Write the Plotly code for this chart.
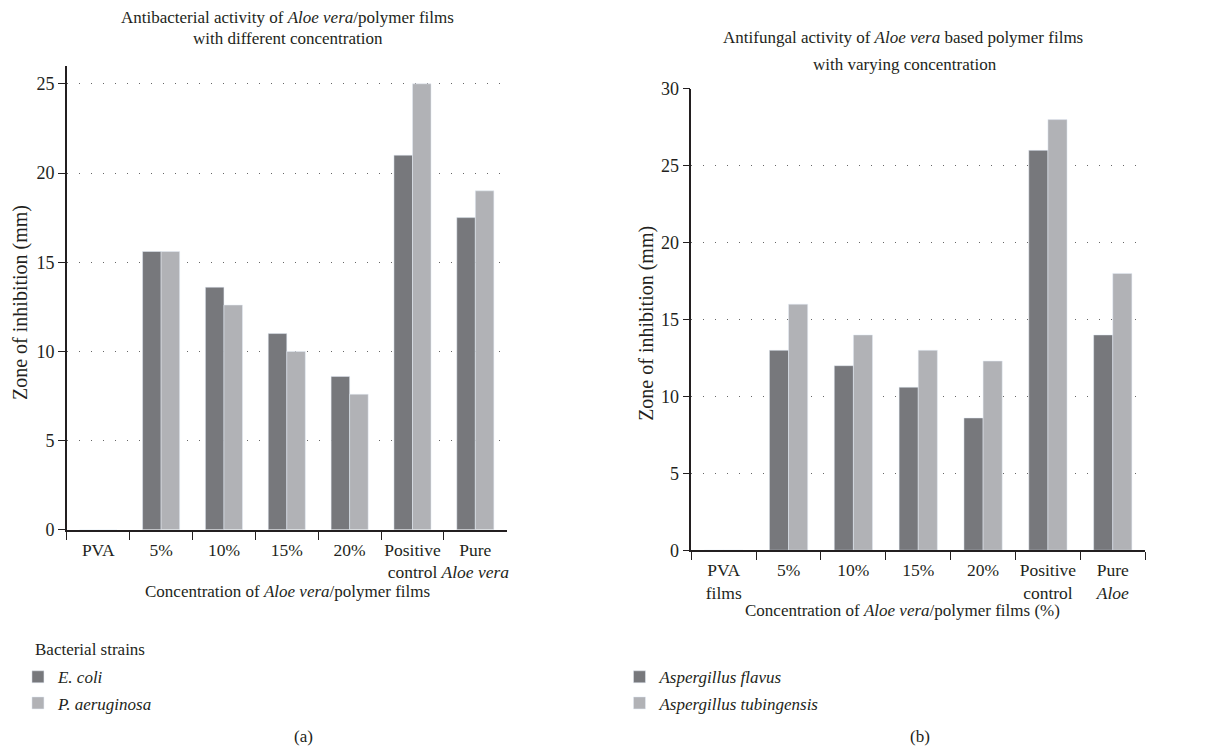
import plotly.graph_objects as go

W, H = 1223, 752

# ---- data ----
cats_a = ["PVA", "5%", "10%", "15%", "20%", "Positive<br>control", "Pure<br><i>Aloe vera</i>"]
ecoli = [0, 15.6, 13.6, 11.0, 8.6, 21.0, 17.5]
paer = [0, 15.6, 12.6, 10.0, 7.6, 25.0, 19.0]

cats_b = ["PVA<br>films", "5%", "10%", "15%", "20%", "Positive<br>control", "Pure<br><i>Aloe</i>"]
aflavus = [0, 13.0, 12.0, 10.6, 8.6, 26.0, 14.0]
atubing = [0, 16.0, 14.0, 13.0, 12.3, 28.0, 18.0]

DARK = "#77787c"
LIGHT = "#b1b2b6"
TXT = "#231f20"
FONT = "Liberation Serif"
FS = 17.5

def px_x(p):
    return p / W

def px_y(p):
    return 1 - p / H

fig = go.Figure()

fig.add_trace(go.Bar(x=cats_a, y=ecoli, name="<i>E. coli</i>", marker_color=DARK,
                     xaxis="x", yaxis="y", legend="legend", legendgroup="a1"))
fig.add_trace(go.Bar(x=cats_a, y=paer, name="<i>P. aeruginosa</i>", marker_color=LIGHT,
                     xaxis="x", yaxis="y", legend="legend", legendgroup="a2"))
fig.add_trace(go.Bar(x=cats_b, y=aflavus, name="<i>Aspergillus flavus</i>", marker_color=DARK,
                     xaxis="x2", yaxis="y2", legend="legend2", legendgroup="b1"))
fig.add_trace(go.Bar(x=cats_b, y=atubing, name="<i>Aspergillus tubingensis</i>", marker_color=LIGHT,
                     xaxis="x2", yaxis="y2", legend="legend2", legendgroup="b2"))

xcommon = dict(type="category", showline=True, linecolor=TXT, linewidth=1.5,
               ticks="outside", tickson="boundaries", ticklen=8, tickwidth=1.2, tickcolor=TXT,
               tickangle=0, ticklabelstandoff=3, showgrid=False,
               tickfont=dict(family=FONT, size=FS, color=TXT), fixedrange=True)
ycommon = dict(showline=True, linecolor=TXT, linewidth=1.5, ticks="outside", ticklen=7,
               tickwidth=1.2, tickcolor=TXT, dtick=5, showgrid=True, gridcolor="#666666",
               griddash="1px,11px", gridwidth=1.3, zeroline=False,
               tickfont=dict(family=FONT, size=18, color=TXT), fixedrange=True)

fig.update_layout(
    width=W, height=H,
    margin=dict(l=0, r=0, t=0, b=0),
    paper_bgcolor="white", plot_bgcolor="white",
    font=dict(family=FONT, size=FS, color=TXT),
    barmode="group", bargap=0.41, bargroupgap=0,
    xaxis=dict(xcommon, domain=[px_x(67), px_x(508)], anchor="y", range=[-0.5, 6.5]),
    yaxis=dict(ycommon, domain=[px_y(534), px_y(57.5)], anchor="x", range=[0, 26]),
    xaxis2=dict(xcommon, domain=[px_x(693), px_x(1148)], anchor="y2", range=[-0.5, 6.5]),
    yaxis2=dict(ycommon, domain=[px_y(555), px_y(81)], anchor="x2", range=[0, 30]),
    legend=dict(x=px_x(18), y=px_y(667), xanchor="left", yanchor="top",
                traceorder="grouped", tracegroupgap=1,
                font=dict(family=FONT, size=17, color=TXT), bgcolor="rgba(0,0,0,0)"),
    legend2=dict(x=px_x(621), y=px_y(667), xanchor="left", yanchor="top",
                 traceorder="grouped", tracegroupgap=1,
                 font=dict(family=FONT, size=17, color=TXT), bgcolor="rgba(0,0,0,0)"),
    showlegend=True,
)

ann = [
    dict(text="Antibacterial activity of <i>Aloe vera</i>/polymer films", x=px_x(288), y=px_y(8)),
    dict(text="with different concentration", x=px_x(289), y=px_y(29)),
    dict(text="Antifungal activity of <i>Aloe vera</i> based polymer films", x=px_x(905), y=px_y(28)),
    dict(text="with varying concentration", x=px_x(907), y=px_y(56)),
    dict(text="Concentration of <i>Aloe vera</i>/polymer films", x=px_x(288), y=px_y(597)),
    dict(text="Concentration of <i>Aloe vera</i>/polymer films (%)", x=px_x(905), y=px_y(617)),
    dict(text="Zone of inhibition (mm)", x=px_x(20), y=px_y(300), textangle=-90, size=20),
    dict(text="Zone of inhibition (mm)", x=px_x(648), y=px_y(322), textangle=-90, size=20),
    dict(text="Bacterial strains", x=px_x(33), y=px_y(657), xanchor="left", size=17),
    dict(text="(a)", x=px_x(304), y=px_y(746)),
    dict(text="(b)", x=px_x(922), y=px_y(746)),
]
for a in ann:
    size = a.pop("size", 17)
    base = dict(xref="paper", yref="paper", showarrow=False, xanchor="center", yanchor="middle",
                font=dict(family=FONT, size=size, color=TXT))
    base.update(a)
    fig.add_annotation(**base)

fig.write_html("out.html", config={"displayModeBar": False},
               post_script="document.body.style.margin='0';")
